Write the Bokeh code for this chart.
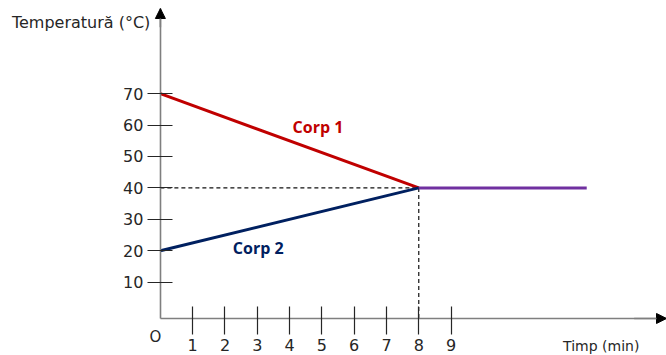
from bokeh.plotting import figure
from bokeh.models import Range1d, FixedTicker, Label, Arrow, NormalHead
from bokeh.embed import file_html
from bokeh.resources import INLINE

# ---- data ----
time_corp1 = [0, 8]
temp_corp1 = [70, 40]
time_corp2 = [0, 8]
temp_corp2 = [20, 40]
time_equilibrium = [8, 13.2]
temp_equilibrium = [40, 40]
t_eq = 8
T_eq = 40
x_tick_values = [1, 2, 3, 4, 5, 6, 7, 8, 9]
y_tick_values = [10, 20, 30, 40, 50, 60, 70]

# visible area (the frame covers the whole canvas; axes sit at fixed locations)
X_MIN, X_MAX = -4.95, 15.67
Y_MIN, Y_MAX = -13.38, 99.68
X_AXIS_AT = -1.59      # temperature level where the time axis is drawn
Y_AXIS_AT = 0          # time where the temperature axis is drawn
X_AXIS_END = 15.67
Y_AXIS_END = 97.13

AXIS_COLOR = "#7f7f7f"
TEXT_COLOR = "#262626"
RED = "#C00000"
NAVY = "#002060"
PURPLE = "#7030A0"

p = figure(width=666, height=355,
           x_range=Range1d(X_MIN, X_MAX), y_range=Range1d(Y_MIN, Y_MAX),
           output_backend="svg", toolbar_location=None,
           min_border_left=0, min_border_right=0,
           min_border_top=0, min_border_bottom=0)
p.outline_line_color = None
p.grid.visible = False
p.background_fill_color = "white"
p.border_fill_color = "white"

xa = p.xaxis[0]
ya = p.yaxis[0]
xa.fixed_location = X_AXIS_AT
ya.fixed_location = Y_AXIS_AT
xa.bounds = (Y_AXIS_AT, X_AXIS_END)
ya.bounds = (X_AXIS_AT, Y_AXIS_END)

for ax, ticks, t_in, t_out, standoff in ((xa, x_tick_values, 12, 16, 5),
                                          (ya, y_tick_values, 12, 13, 4)):
    ax.ticker = FixedTicker(ticks=ticks)
    ax.major_tick_in = t_in
    ax.major_tick_out = t_out
    ax.minor_tick_in = 0
    ax.minor_tick_out = 0
    ax.axis_line_color = AXIS_COLOR
    ax.axis_line_width = 1.6
    ax.major_tick_line_color = TEXT_COLOR
    ax.major_tick_line_width = 1.2
    ax.major_label_standoff = standoff
    ax.major_label_text_font = "DejaVu Sans"
    ax.major_label_text_font_size = "16px"
    ax.major_label_text_color = TEXT_COLOR

# dashed guide lines to the equilibrium point
p.line([Y_AXIS_AT, t_eq], [T_eq, T_eq], line_color="#111111", line_width=1.2, line_dash="4 3")
p.line([t_eq, t_eq], [T_eq, X_AXIS_AT], line_color="#111111", line_width=1.2, line_dash="4 3")

# temperature curves
p.line(time_corp1, temp_corp1, line_color=RED, line_width=3)
p.line(time_corp2, temp_corp2, line_color=NAVY, line_width=3)
p.line(time_equilibrium, temp_equilibrium, line_color=PURPLE, line_width=3)

# axis arrows
p.add_layout(Arrow(end=NormalHead(size=10, fill_color="black", line_color="black", line_width=1),
                   x_start=Y_AXIS_AT, y_start=Y_AXIS_END - 6, x_end=Y_AXIS_AT, y_end=Y_AXIS_END,
                   line_color=AXIS_COLOR, line_width=1.6))
p.add_layout(Arrow(end=NormalHead(size=10, fill_color="black", line_color="black", line_width=1),
                   x_start=X_AXIS_END - 1, y_start=X_AXIS_AT, x_end=X_AXIS_END, y_end=X_AXIS_AT,
                   line_color=AXIS_COLOR, line_width=1.6))

font = "DejaVu Sans"
p.add_layout(Label(x=-0.31, y=92.68, text="Temperatură (°C)", text_align="right",
                   text_baseline="middle", text_font=font, text_font_size="16px",
                   text_color=TEXT_COLOR))
p.add_layout(Label(x=13.65, y=-10.3, text="Timp (min)", text_align="center",
                   text_baseline="middle", text_font=font, text_font_size="14px",
                   text_color=TEXT_COLOR))
p.add_layout(Label(x=-0.155, y=-7.64, text="O", text_align="center",
                   text_baseline="middle", text_font=font, text_font_size="15px",
                   text_color=TEXT_COLOR))
p.add_layout(Label(x=4.88, y=59.55, text="Corp 1", text_align="center",
                   text_baseline="middle", text_font="Open Sans", text_font_size="16px",
                   text_font_style="bold", text_color=RED))
p.add_layout(Label(x=3.03, y=21.0, text="Corp 2", text_align="center",
                   text_baseline="middle", text_font="Open Sans", text_font_size="16px",
                   text_font_style="bold", text_color=NAVY))

open("out.html", "w").write(file_html(p, INLINE))
